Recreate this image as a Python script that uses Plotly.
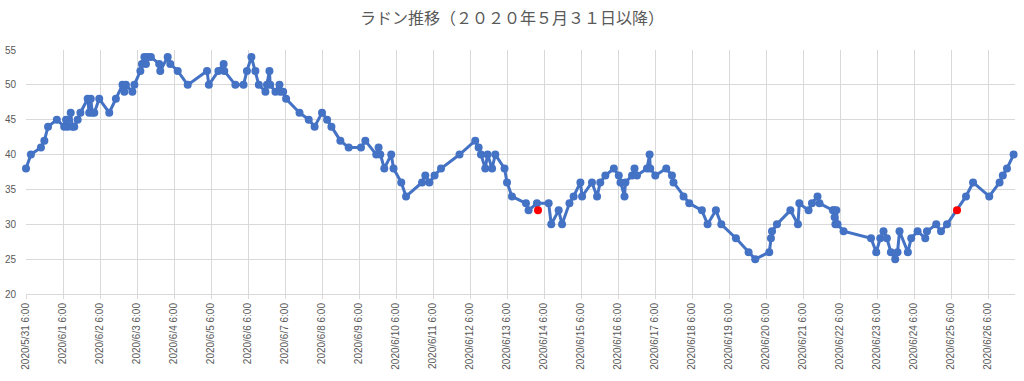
import pandas as pd
import plotly.graph_objects as go

start = pd.Timestamp("2020-05-31 06:00")

# elapsed hours since 2020/5/31 6:00 and radon values
hours = [0, 3.2, 9.7, 11.9, 14.3, 20, 24.8, 26, 27, 29, 30, 31.3, 33.5, 35.3,
         40, 41, 42, 43, 44.3, 47.5, 54, 58.3, 62.6, 63.8, 64.8, 69, 70.3,
         74.2, 75.2, 76.8, 77.8, 79, 81, 86.4, 87.1, 91.9, 93.6, 98.4, 104.9,
         117.4, 118.6, 124.8, 128.2, 128.6, 135.8, 141.1, 143.3, 146.2, 148.8,
         151, 155.3, 156.3, 157.9, 158.4, 161.8, 164.4, 164.9, 166.8, 168.7,
         177.4, 183.4, 187.2, 192, 195.3, 198.1, 203.9, 209.3, 217.3, 220.1,
         227.2, 228.7, 229.8, 232.4, 236.9, 238.4, 243.4, 246.5, 256.9, 259,
         261.6, 265, 269.2, 281.2, 291.4, 293.6, 295.1, 297.9, 299.4, 302.3,
         304.4, 310.4, 312, 315.2, 324.3, 326, 331.4, 339, 340.7, 345.5, 347.7,
         352.5, 355.2, 359.6, 360.7, 367.1, 370.4, 372.5, 375.8, 381.3, 384.5,
         385.6, 388.2, 388.8, 393.1, 394.7, 396.3, 402.8, 404.5, 404.9, 408.2,
         415.3, 419, 420, 426.5, 430.2, 438.4, 442.1, 447.5, 451, 460.5, 468.7,
         473, 482.1, 483.2, 483.9, 487.1, 495.8, 500.7, 501.6, 507.6, 509.8,
         513.4, 514.7, 523.4, 524, 524.5, 525, 525.6, 526.4, 530.3, 548.1,
         551.5, 554.1, 556.2, 558.4, 561, 563.8, 565.3, 566.6, 572, 574.2,
         578.3, 583.3, 584.4, 590.4, 593.5, 597.4, 609.7, 614.3, 624.8, 631.5,
         633.6, 636.3, 640.6]
values = [38, 40, 41, 42, 44, 45, 44, 45, 44, 46, 44, 44, 45, 46,
          48, 46, 48, 46, 46, 48, 46, 48, 50, 49, 50, 49, 50,
          52, 53, 54, 53, 54, 54, 53, 52, 54, 53, 52, 50,
          52, 50, 52, 53, 52, 50, 50, 52, 54, 52,
          50, 49, 50, 52, 50, 49, 50, 49, 49, 48,
          46, 45, 44, 46, 45, 44, 42, 41, 41, 42,
          40, 41, 40, 38, 40, 38, 36, 34, 36, 37,
          36, 37, 38, 40, 42, 41, 40, 38, 40, 38,
          40, 38, 36, 34, 33, 32, 33, 33, 30, 32, 30,
          33, 34, 36, 34, 36, 34, 36, 37, 38, 37,
          36, 34, 36, 37, 38, 37, 38, 40, 38, 37,
          38, 37, 36, 34, 33, 32, 30, 32, 30, 28, 26,
          25, 26, 28, 29, 30, 32, 30, 33, 32, 33,
          34, 33, 32, 32, 31, 30, 32, 30, 29, 28,
          26, 28, 29, 28, 26, 25, 26, 29, 26, 28,
          29, 28, 29, 30, 29, 30, 34, 36, 34, 36,
          37, 38, 40]

red_hours = [332.1, 603.9]
red_values = [32, 32]

y_ticks = [20, 25, 30, 35, 40, 45, 50, 55]
n_days = 27

times = [start + pd.Timedelta(hours=h) for h in hours]
red_times = [start + pd.Timedelta(hours=h) for h in red_hours]
tick_dates = [start + pd.Timedelta(days=d) for d in range(n_days)]
tick_text = [f"{t.year}/{t.month}/{t.day} {t.hour}:{t.minute:02d}" for t in tick_dates]

blue = "#4472C4"
grid = "#D9D9D9"
text_col = "#595959"

fig = go.Figure()
fig.add_trace(go.Scatter(
    x=times, y=values, mode="lines+markers",
    line=dict(color=blue, width=3),
    marker=dict(color=blue, size=8, symbol="circle"),
    showlegend=False, cliponaxis=False,
))
fig.add_trace(go.Scatter(
    x=red_times, y=red_values, mode="markers",
    marker=dict(color="#FF0000", size=8, symbol="circle"),
    showlegend=False, cliponaxis=False,
))

fig.update_layout(
    width=1024, height=381,
    margin=dict(l=26, r=9, t=50, b=87),
    paper_bgcolor="white", plot_bgcolor="white",
    title=dict(text="ラドン推移（２０２０年５月３１日以降）", x=0.5, xanchor="center",
               y=0.953, yanchor="middle",
               font=dict(family="Noto Sans CJK JP", size=16, color=text_col)),
    font=dict(family="Liberation Sans", size=10, color=text_col),
)
fig.update_xaxes(
    type="date",
    range=[start, start + pd.Timedelta(hours=641.5)],
    tickvals=tick_dates, ticktext=tick_text, tickangle=-90,
    showgrid=True, gridcolor=grid, gridwidth=1,
    showline=True, linecolor=grid,
    ticks="outside", ticklen=4, tickcolor=grid,
    tickfont=dict(size=10, color=text_col),
    zeroline=False, automargin=False,
)
fig.update_yaxes(
    range=[20, 55], tickvals=y_ticks,
    showgrid=True, gridcolor=grid, gridwidth=1,
    showline=False, zeroline=False,
    ticks="", ticklabelstandoff=9,
    tickfont=dict(size=10, color=text_col),
    automargin=False,
)

fig.write_html("out.html", config={"displayModeBar": False},
               post_script="document.body.style.margin='0';")
